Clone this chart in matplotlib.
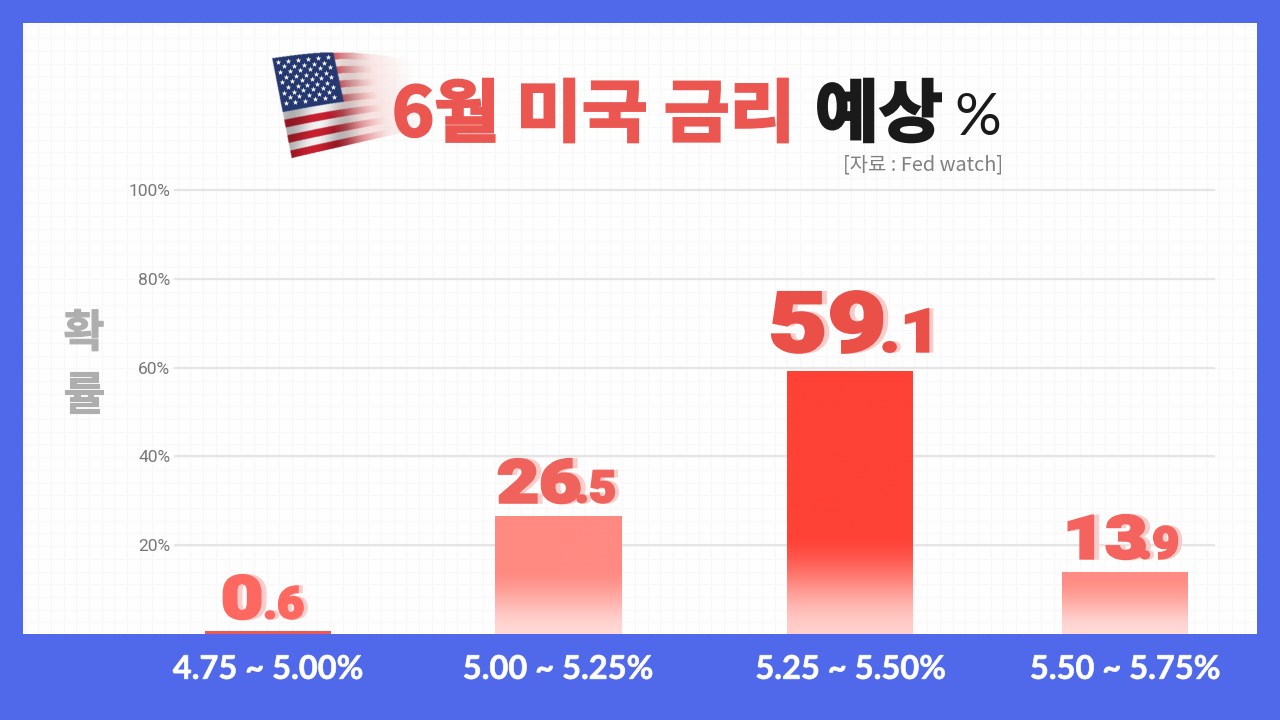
import numpy as np
import matplotlib
matplotlib.use('Agg')
import matplotlib.pyplot as plt
from matplotlib.colors import to_rgb
from matplotlib.patheffects import AbstractPathEffect
from matplotlib.ticker import MultipleLocator
from matplotlib.transforms import Affine2D

KR = 'Noto Sans CJK KR'

# data
categories = ['4.75 ~ 5.00%', '5.00 ~ 5.25%', '5.25 ~ 5.50%', '5.50 ~ 5.75%']
x_pos = [0, 0.998, 2.005, 2.95]  # the columns are not evenly spaced in the picture
values = [0.6, 26.5, 59.1, 13.9]
big_parts = ['0', '26', '59', '13']
small_parts = ['.6', '.5', '.1', '.9']
y_ticks = [20, 40, 60, 80, 100]
y_labels = ['20%', '40%', '60%', '80%', '100%']

# styles per bar
top_colors = ['#EE5A55', '#FF8A82', '#FF4136', '#FF8C84']
end_colors = ['#EE5A55', '#FFD8D5', '#FFCFCB', '#FFDAD7']
fade_from = [1, 15, 23, 13]
label_colors = ['#FF6860', '#F0635C', '#EA4F48', '#F4635D']
big_sizes = [43, 43, 60, 43]
small_sizes = [32, 32, 43, 32]
small_sx = [1.05, 1.05, 1.15, 1.05]
label_left = [-47, -61, -82, -62]
label_up = [13, 14, 20, 14]
big_adv = [42, 78, 111, 75]


class Stretch(AbstractPathEffect):
    # draws the glyphs wider than the font has them, the source uses an extended face
    def __init__(self, sx=1.0, color='k', shift=(0, 0), stroke=0):
        self.sx = sx
        self.color = color
        self.shift = shift
        self.stroke = stroke

    def draw_path(self, renderer, gc, tpath, affine, rgbFace=None):
        gc0 = renderer.new_gc()
        gc0.copy_properties(gc)
        gc0.set_foreground(self.color)
        gc0.set_linewidth(self.stroke)
        gc0.set_joinstyle('miter')
        tr = Affine2D().scale(self.sx, 1) + affine + Affine2D().translate(*self.shift)
        renderer.draw_path(gc0, tpath, tr, to_rgb(self.color))
        gc0.restore()


fig = plt.figure(figsize=(12.8, 7.2), dpi=100, facecolor='#4F69EA')

# white panel, in pixel coordinates
bg = fig.add_axes([23 / 1280, 86 / 720, 1234 / 1280, 611 / 720], facecolor='#FEFEFE')
bg.set_xlim(23, 1257)
bg.set_ylim(634, 23)
bg.xaxis.set_major_locator(MultipleLocator(12.7))
bg.yaxis.set_major_locator(MultipleLocator(12.7))
bg.grid(True, color='#F8F8F8', lw=0.8)
bg.tick_params(length=0, labelleft=False, labelbottom=False)
bg.set_axisbelow(True)
for s in bg.spines.values():
    s.set_visible(False)

# flag
px, py = np.meshgrid(np.arange(268, 420, 0.5), np.arange(46, 166, 0.5))
v = (py - 58) / 100
for _ in range(3):
    u = (px - 272 - 19.5 * v) / 130
    ytop = 58 - 6 * np.sin(np.pi * np.clip(u, 0, 1))
    ybot = 158 - 30 * u
    v = (py - ytop) / (ybot - ytop)
stripe = np.floor(v * 13) % 2 == 0
rgb = np.where(stripe[..., None], np.array(to_rgb('#C9202F')), np.array(to_rgb('#F3F3F3')))
shade = 0.86 + 0.14 * np.cos(u * 14 + v * 4)
rgb = rgb * shade[..., None]
blur = np.clip((u - 0.35) / 0.4, 0, 1)[..., None]
rgb = rgb * (1 - blur) + np.array(to_rgb('#F6CFCB')) * blur
canton = (v < 7 / 13) & (u < 0.47)
rgb[canton] = to_rgb('#24376F')
alpha = np.clip((1.05 - u) / 0.6, 0, 1)
alpha[(u < 0) | (v < 0) | (v > 1)] = 0
bg.imshow(np.dstack([rgb, alpha]), extent=(268, 420, 166, 46), aspect='auto', interpolation='bilinear', zorder=2)
bg.set_xlim(23, 1257)
bg.set_ylim(634, 23)
star_x, star_y = [], []
for r in range(9):
    n = 6 if r % 2 == 0 else 5
    for c in range(n):
        a = (c + (0.5 if r % 2 == 0 else 1)) / 6
        b = (r + 0.8) / 10
        star_x.append((1 - a) * (1 - b) * 272 + a * (1 - b) * 333 + a * b * 340 + (1 - a) * b * 282)
        star_y.append((1 - a) * (1 - b) * 58 + a * (1 - b) * 53 + a * b * 102 + (1 - a) * b * 110)
bg.scatter(star_x, star_y, marker='*', s=18, color='white', lw=0, zorder=3)

# title
bg.text(392, 136, '6월 미국 금리', family=KR, fontsize=49, weight='black', ha='left', va='baseline',
        path_effects=[Stretch(1.05, '#EB5650', stroke=1.8)], zorder=4)
bg.text(815, 136, '예상', family=KR, fontsize=49, weight='black', ha='left', va='baseline',
        path_effects=[Stretch(1.02, '#1A1A1A', stroke=1.8)], zorder=4)
bg.text(954, 135, '%', family='Lato', fontsize=42, weight='normal', color='#1A1A1A', ha='left', va='baseline', zorder=4)
bg.text(1003, 170, '[자료 : Fed watch]', family=[KR, 'DejaVu Sans'], fontsize=14.3, weight='light', color='#808080',
        ha='right', va='baseline', zorder=4)

# chart
ax = fig.add_axes([175 / 1280, 86 / 720, 1039 / 1280, 444 / 720], facecolor='none')
xmin = -(268 - 175) / 290.5
xmax = xmin + 1039 / 290.5
bars = ax.bar(x_pos, values, width=126 / 290.5, color=top_colors, zorder=3)
for bar, c0, c1, f in zip(bars, top_colors, end_colors, fade_from):
    h = bar.get_height()
    t = np.linspace(0, h, 256)
    m = np.clip(t / f, 0, 1)
    mix = (m * m * (3 - 2 * m))[:, None]
    col = np.array(to_rgb(c1)) * (1 - mix) + np.array(to_rgb(c0)) * mix
    ax.imshow(col[:, None, :], extent=(bar.get_x(), bar.get_x() + bar.get_width(), 0, h),
              origin='lower', aspect='auto', interpolation='bilinear', zorder=3)
ax.set_xlim(xmin, xmax)
ax.set_ylim(0, 100)
ax.set_yticks(y_ticks)
ax.set_yticklabels(y_labels, family='Roboto', fontsize=12.5, weight='normal', color='#777777')
ax.set_xticks(x_pos)
ax.set_xticklabels(categories, family='Lato', fontsize=23.5, weight='bold', color='white')
for lab in ax.get_xticklabels():
    lab.set_path_effects([Stretch(1.0, 'white', stroke=0.5)])
ax.tick_params(axis='y', length=0, pad=3.5)
ax.tick_params(axis='x', length=0, pad=15)
ax.grid(True, axis='y', color='#E5E5E5', lw=1.6, zorder=1)
for line in ax.get_ygridlines():
    line.set_clip_on(False)
ax.set_axisbelow(True)
for s in ax.spines.values():
    s.set_visible(False)
ax.set_ylabel('확\n률', family=KR, fontsize=32, weight='black', color='#AEAEAE', rotation=0, linespacing=1.45,
              ha='center', va='center', path_effects=[Stretch(1.0, '#AEAEAE', stroke=0.8)])
ax.yaxis.set_label_coords(-0.0876, 0.606)

# value labels, a big whole part and a small decimal part with a pale shadow
for i in range(len(values)):
    ax.annotate(big_parts[i], (x_pos[i], values[i]), xytext=(label_left[i], label_up[i]), textcoords='offset pixels',
                family='Roboto', weight='black', fontsize=big_sizes[i], ha='left', va='baseline', zorder=5,
                path_effects=[Stretch(1.22, '#FBCCC9', shift=(5, 0), stroke=2), Stretch(1.22, label_colors[i], stroke=2)])
    ax.annotate(small_parts[i], (x_pos[i], values[i]), xytext=(label_left[i] + big_adv[i], label_up[i]),
                textcoords='offset pixels', family='Roboto', weight='black', fontsize=small_sizes[i], ha='left',
                va='baseline', zorder=5,
                path_effects=[Stretch(small_sx[i], '#FBCCC9', shift=(4, 0), stroke=1.5),
                              Stretch(small_sx[i], label_colors[i], stroke=1.5)])

fig.savefig('out.png', dpi=100, facecolor=fig.get_facecolor())
